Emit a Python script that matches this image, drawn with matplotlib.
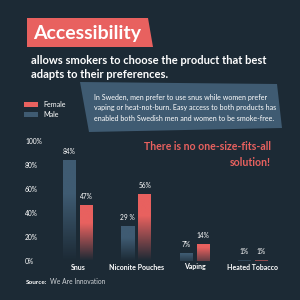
import numpy as np
import matplotlib.pyplot as plt
from matplotlib.patches import Polygon

plt.rcParams["font.family"] = ["Lato", "DejaVu Sans"]

BG = "#1c2a35"
RED = "#e8615f"
BLUE = "#3f5b72"

categories = ["Snus", "Niconite Pouches", "Vaping", "Heated Tobacco"]
male = [84, 29, 7, 1]
female = [47, 56, 14, 1]
male_labels = ["84%", "29 %", "7%", "1%"]
female_labels = ["47%", "56%", "14%", "1%"]
yticks = [0, 20, 40, 60, 80, 100]

W = H = 300.0


def fx(x):
    return x / W


def fy(y):
    return 1 - y / H


fig = plt.figure(figsize=(3, 3), dpi=100, facecolor=BG)

# data axes spanning whole figure; pixel -> data mapping chosen to match layout
ax = fig.add_axes([0, 0, 1, 1])
ax.set_facecolor("none")
px_per_cat = 58.3
x0_px = 78.0
y0_px, px_per_pct = 261.0, 1.2
ax.axis("off")

# header box
fig.patches.append(Polygon([(fx(27), fy(18)), (fx(148), fy(18)), (fx(153), fy(47)), (fx(27), fy(47))],
                           closed=True, facecolor=RED, edgecolor="none", transform=fig.transFigure))
fig.text(fx(33), fy(33), "Accessibility", color="white", fontsize=14, fontweight="bold", va="center")
fig.text(fx(31), fy(60), "allows smokers to choose the product that best", color="white",
         fontsize=8.0, fontweight="bold", va="center")
fig.text(fx(31), fy(74), "adapts to their preferences.", color="white",
         fontsize=8.0, fontweight="bold", va="center")

# info box
fig.patches.append(Polygon([(fx(80), fy(82)), (fx(277), fy(84)), (fx(282), fy(128)), (fx(89), fy(132))],
                           closed=True, facecolor=BLUE, edgecolor="none", transform=fig.transFigure))
info = ["In Sweden, men prefer to use snus while women prefer",
        "vaping or heat-not-burn. Easy access to both products has",
        "enabled both Swedish men and women to be smoke-free."]
for i, line in enumerate(info):
    fig.text(fx(94), fy(97 + i * 10.7), line, color="white", fontsize=5.1, va="center")

fig.text(fx(271), fy(147), "There is no one-size-fits-all", color=RED, fontsize=7.6,
         fontweight="bold", ha="right", va="center")
fig.text(fx(271), fy(162), "solution!", color=RED, fontsize=7.6,
         fontweight="bold", ha="right", va="center")

# legend
fig.patches.append(plt.Rectangle((fx(24), fy(107)), 14 / W, 5 / H, facecolor=RED,
                                 transform=fig.transFigure))
fig.patches.append(plt.Rectangle((fx(24), fy(117)), 14 / W, 5 / H, facecolor=BLUE,
                                 transform=fig.transFigure))
fig.text(fx(43), fy(104.5), "Female", color="white", fontsize=5.1, va="center")
fig.text(fx(43), fy(114.5), "Male", color="white", fontsize=5.1, va="center")

# y tick labels
for t in yticks:
    ax.text((25 - x0_px) / px_per_cat, t, f"{t}%", color="white", fontsize=4.8, va="center", ha="left")

# bars with vertical fade
x = np.arange(len(categories))
bw = 13 / px_per_cat
off = 8.5 / px_per_cat


def fade_bars(bars, color):
    rgb = np.array(plt.matplotlib.colors.to_rgb(color))
    bg = np.array(plt.matplotlib.colors.to_rgb(BG))
    for b in bars:
        h = b.get_height()
        x_l = b.get_x()
        n = 64
        t = np.linspace(1, 0, n)[:, None]
        # strong colour at top, fading into background near the baseline
        frac = np.clip(t * 1.5, 0, 1) if h > 20 else np.clip(0.35 + t * 0.8, 0, 1)
        img = (bg[None, :] * (1 - frac) + rgb[None, :] * frac)[:, None, :]
        im = ax.imshow(img, extent=[x_l, x_l + b.get_width(), 0, h], aspect="auto",
                       origin="upper", zorder=3, interpolation="bilinear")
        im.set_clip_path(b)
        b.set_facecolor("none")


mb = ax.bar(x - off, male, width=bw, color=BLUE, edgecolor="none", zorder=2)
fb = ax.bar(x + off, female, width=bw, color=RED, edgecolor="none", zorder=2)
fade_bars(mb, BLUE)
fade_bars(fb, RED)
ax.set_xlim((0 - x0_px) / px_per_cat, (W - x0_px) / px_per_cat)
ax.set_ylim((y0_px - H) / px_per_pct, y0_px / px_per_pct)

for xi, v, lab in zip(x - off, male, male_labels):
    ax.text(xi, v + 4, lab, color="white", fontsize=4.8, ha="center", va="bottom")
for xi, v, lab in zip(x + off, female, female_labels):
    ax.text(xi, v + 4, lab, color="white", fontsize=4.8, ha="center", va="bottom")

for xi, c in zip(x, categories):
    ax.text(xi, -5, c, color="white", fontsize=5.0, fontweight="bold", ha="center", va="center")

fig.text(fx(26), fy(282), "Source:", color="white", fontsize=4.6, fontweight="bold", va="center")
fig.text(fx(50), fy(282), "We Are Innovation", color="#d0d4d8", fontsize=4.8, va="center")

fig.savefig("out.png", dpi=100, facecolor=BG)
